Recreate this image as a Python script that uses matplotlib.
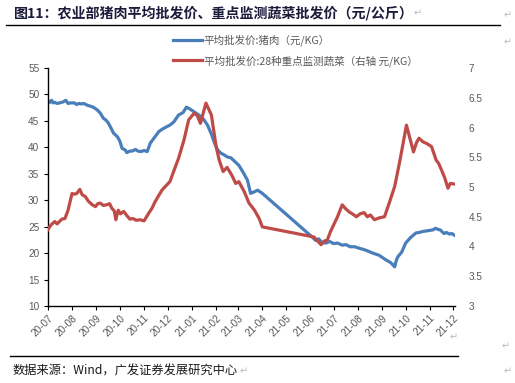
import matplotlib
matplotlib.use("Agg")
import matplotlib.pyplot as plt
import matplotlib.dates as mdates
import pandas as pd
from matplotlib.lines import Line2D

plt.rcParams['font.family'] = ['Liberation Sans', 'Noto Sans CJK SC', 'DejaVu Sans']

# ---- data ----
pork_dates = ["2020-07-01", "2020-07-04", "2020-07-06", "2020-07-08", "2020-07-10", "2020-07-13",
              "2020-07-16", "2020-07-21", "2020-07-24", "2020-07-27", "2020-07-30",
              "2020-08-04", "2020-08-07", "2020-08-10", "2020-08-13", "2020-08-16", "2020-08-20",
              "2020-08-24", "2020-08-28", "2020-09-02", "2020-09-06",
              "2020-09-10", "2020-09-13", "2020-09-16", "2020-09-20", "2020-09-23", "2020-09-28",
              "2020-10-01", "2020-10-04", "2020-10-08", "2020-10-10",
              "2020-10-14", "2020-10-17", "2020-10-21", "2020-10-24", "2020-10-28", "2020-11-01",
              "2020-11-05", "2020-11-09", "2020-11-15",
              "2020-11-20", "2020-11-25", "2020-11-30", "2020-12-04", "2020-12-09", "2020-12-15",
              "2020-12-21", "2020-12-25", "2020-12-29",
              "2021-01-04", "2021-01-10", "2021-01-16", "2021-01-21", "2021-01-26", "2021-01-30",
              "2021-02-03", "2021-02-07", "2021-02-11",
              "2021-02-15", "2021-02-20", "2021-02-25", "2021-03-02", "2021-03-07", "2021-03-13",
              "2021-03-17", "2021-03-22",
              "2021-03-26", "2021-04-01", "2021-06-04", "2021-06-08", "2021-06-12", "2021-06-16",
              "2021-06-21", "2021-06-26", "2021-07-01",
              "2021-07-06", "2021-07-12", "2021-07-17", "2021-07-22", "2021-07-28", "2021-08-03",
              "2021-08-08", "2021-08-12", "2021-08-20", "2021-08-28", "2021-09-06", "2021-09-12",
              "2021-09-17", "2021-09-19", "2021-09-21", "2021-09-26", "2021-10-01", "2021-10-07",
              "2021-10-14", "2021-10-18", "2021-10-23",
              "2021-10-28", "2021-11-01", "2021-11-05", "2021-11-08", "2021-11-11", "2021-11-14",
              "2021-11-19", "2021-11-22", "2021-11-26", "2021-11-29", "2021-12-02"]
pork_price = [48.8, 48.5, 48.9, 48.4, 48.5, 48.3,
              48.4, 48.6, 48.9, 48.3, 48.4,
              48.4, 48.1, 48.3, 48.2, 48.3, 48.0,
              47.8, 47.6, 47.1, 46.5,
              45.5, 45.2, 44.7, 43.6, 42.7, 42.0,
              41.2, 39.8, 39.5, 39.0,
              39.3, 39.3, 39.6, 39.3, 39.2, 39.4,
              39.2, 40.8, 42.0,
              43.0, 43.5, 43.9, 44.2, 44.8, 46.1,
              46.6, 47.6, 47.3,
              46.7, 46.1, 45.3, 44.2, 42.5, 40.8,
              39.5, 38.9, 38.6,
              38.2, 38.0, 37.3, 36.6, 35.4, 33.8,
              31.3, 31.6,
              31.9, 31.3, 23.0, 22.4, 22.7, 22.0,
              21.9, 22.2, 21.8,
              21.9, 21.5, 21.6, 21.2, 21.2, 20.9,
              20.7, 20.5, 20.0, 19.6, 18.7, 18.2,
              17.4, 18.6, 19.3, 20.2, 21.9, 22.9,
              23.8, 23.9, 24.1,
              24.2, 24.3, 24.4, 24.7, 24.5, 24.4,
              23.7, 23.9, 23.6, 23.7, 23.4]

veg_dates = ["2020-07-01", "2020-07-05", "2020-07-10", "2020-07-13", "2020-07-16", "2020-07-19",
             "2020-07-23", "2020-07-27", "2020-08-01",
             "2020-08-04", "2020-08-07", "2020-08-11", "2020-08-14", "2020-08-18", "2020-08-22",
             "2020-08-27", "2020-08-31", "2020-09-03", "2020-09-06",
             "2020-09-10", "2020-09-14", "2020-09-18", "2020-09-21", "2020-09-24", "2020-09-26",
             "2020-09-29", "2020-10-02", "2020-10-06", "2020-10-10", "2020-10-14", "2020-10-18",
             "2020-10-22", "2020-10-27", "2020-11-01", "2020-11-07", "2020-11-11", "2020-11-15",
             "2020-11-19", "2020-11-24", "2020-11-29", "2020-12-04",
             "2020-12-11", "2020-12-15", "2020-12-22", "2020-12-28", "2021-01-04", "2021-01-08",
             "2021-01-12", "2021-01-19", "2021-01-26", "2021-02-01", "2021-02-05", "2021-02-10",
             "2021-02-15",
             "2021-02-21", "2021-02-26", "2021-03-02", "2021-03-09", "2021-03-15", "2021-03-22",
             "2021-03-28", "2021-04-01", "2021-06-06", "2021-06-10", "2021-06-15", "2021-06-19",
             "2021-06-23", "2021-06-27",
             "2021-07-06", "2021-07-12", "2021-07-16", "2021-07-21", "2021-07-26", "2021-07-30",
             "2021-08-04", "2021-08-09", "2021-08-13", "2021-08-17", "2021-08-22", "2021-08-28",
             "2021-09-04", "2021-09-10", "2021-09-17", "2021-09-23", "2021-09-27", "2021-10-02",
             "2021-10-07", "2021-10-11", "2021-10-15", "2021-10-18", "2021-10-23", "2021-10-28",
             "2021-11-03", "2021-11-09",
             "2021-11-12", "2021-11-15", "2021-11-20", "2021-11-24", "2021-11-27", "2021-12-02"]
veg_price = [4.28, 4.36, 4.42, 4.38, 4.42, 4.46,
             4.47, 4.61, 4.89,
             4.88, 4.89, 4.96, 4.87, 4.84, 4.76,
             4.70, 4.67, 4.72, 4.73,
             4.69, 4.70, 4.72, 4.64, 4.60, 4.45,
             4.61, 4.55, 4.59, 4.52, 4.46, 4.47,
             4.44, 4.45, 4.43, 4.56, 4.64, 4.75,
             4.84, 4.95, 5.02, 5.09,
             5.34, 5.48, 5.79, 6.13, 6.24, 6.20,
             6.07, 6.41, 6.21, 5.68, 5.45, 5.26,
             5.33,
             5.20, 5.06, 5.09, 4.92, 4.73, 4.61,
             4.47, 4.33, 4.16, 4.10, 4.03, 4.09,
             4.11, 4.25,
             4.50, 4.70, 4.64, 4.58, 4.54, 4.50,
             4.55, 4.57, 4.50, 4.53, 4.45, 4.48,
             4.50, 4.73, 5.01, 5.40, 5.68, 6.04,
             5.79, 5.59, 5.75, 5.82, 5.76, 5.73,
             5.68, 5.45,
             5.40, 5.31, 5.15, 4.98, 5.06, 5.05]

left_ticks = [10, 15, 20, 25, 30, 35, 40, 45, 50, 55]
right_ticks = [3, 3.5, 4, 4.5, 5, 5.5, 6, 6.5, 7]
right_tick_labels = ["3", "3.5", "4", "4.5", "5", "5.5", "6", "6.5", "7"]

pork_label = "平均批发价:猪肉（元/KG）"
veg_label = "平均批发价:28种重点监测蔬菜（右轴 元/KG）"
title = "图11：农业部猪肉平均批发价、重点监测蔬菜批发价（元/公斤）"
source = "数据来源：Wind，广发证券发展研究中心"

# ---- figure ----
W, H = 515, 383
fig = plt.figure(figsize=(W / 100, H / 100), dpi=100)
ax = fig.add_axes([47.7 / W, 1 - 306 / H, (455 - 47.7) / W, (306 - 68) / H])
ax2 = ax.twinx()

blue = "#4A7EBB"
red = "#BE4B48"
pd_dates = pd.to_datetime(pork_dates)
vd_dates = pd.to_datetime(veg_dates)
l1, = ax.plot(pd_dates, pork_price, color=blue, lw=2.3, solid_joinstyle='round')
l2, = ax2.plot(vd_dates, veg_price, color=red, lw=2.3, solid_joinstyle='round')

ax.set_ylim(10, 55)
ax.set_yticks(left_ticks)
ax2.set_ylim(3, 7)
ax2.set_yticks(right_ticks)
ax2.set_yticklabels(right_tick_labels)

ax.set_xlim(pd.Timestamp("2020-07-01"), pd.Timestamp("2021-12-03"))
ax.xaxis.set_major_locator(mdates.MonthLocator())
ax.xaxis.set_major_formatter(mdates.DateFormatter("%y-%m"))

tick_color = "#595959"
for a in (ax, ax2):
    for s in ("top", "right"):
        a.spines[s].set_visible(False)
ax2.spines["left"].set_visible(False)
ax2.spines["bottom"].set_visible(False)
ax.spines["left"].set_color("black")
ax.spines["bottom"].set_color("black")
ax.spines["left"].set_linewidth(1)
ax.spines["bottom"].set_linewidth(1)

ax.tick_params(axis='y', direction='out', length=3, width=0.8, colors='black',
               labelcolor=tick_color, labelsize=7.2, pad=3)
ax.tick_params(axis='x', direction='out', length=3, width=0.8, colors='black',
               labelcolor=tick_color, labelsize=7.2, pad=2)
for lab in ax.get_xticklabels():
    lab.set_rotation(45)
    lab.set_ha('right')
    lab.set_rotation_mode('anchor')
ax2.tick_params(axis='y', length=0, labelcolor=tick_color, labelsize=7.2, pad=10)

# legend
fig.legend([l1, l2], [pork_label, veg_label], loc='upper left',
           bbox_to_anchor=(168 / W, 1 - 29 / H), frameon=False,
           prop={'family': ['Noto Sans CJK SC', 'DejaVu Sans'], 'size': 7.6},
           handlelength=2.7, handletextpad=0.2, labelspacing=0.85, borderpad=0,
           labelcolor=tick_color)

# title & decorations
fig.text(14 / W, 1 - 13 / H, title, fontsize=10.1, fontweight='bold', color="#1A1A3A",
         family=['Noto Sans CJK SC', 'DejaVu Sans'], va='center', ha='left')
fig.add_artist(Line2D([6 / W, 500 / W], [1 - 25 / H, 1 - 25 / H], color='black', lw=1))
fig.add_artist(Line2D([10 / W, 458 / W], [1 - 356 / H, 1 - 356 / H], color='black', lw=1))
fig.text(13 / W, 1 - 371 / H, source, fontsize=8.8, color="#1A1A1A",
         family=['Noto Sans CJK SC', 'DejaVu Sans'], va='center', ha='left')

mark_color = "#BBBBBB"
for (mx, my) in [(418, 13), (508, 15), (508, 42), (506, 346), (454, 337), (244, 371), (508, 371)]:
    fig.text(mx / W, 1 - my / H, "↵", fontsize=7, color=mark_color,
             family=['DejaVu Sans'], va='center', ha='center')

fig.savefig("out.png", dpi=100)
